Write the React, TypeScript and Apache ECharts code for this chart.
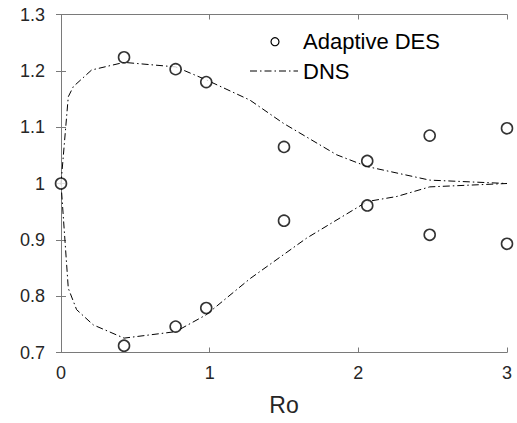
import React, { useEffect, useRef } from "react";
import * as echarts from "echarts";

const desX = [0, 0.424, 0.771, 0.977, 1.5, 2.06, 2.48, 3.0];
const desUpper = [1.0, 1.224, 1.203, 1.18, 1.065, 1.04, 1.085, 1.098];
const desLower = [1.0, 0.712, 0.746, 0.779, 0.934, 0.961, 0.909, 0.893];

const dnsUpperX = [0, 0.049, 0.083, 0.206, 0.424, 0.771, 0.977, 1.271, 1.495, 1.854, 2.06, 2.48, 3.0];
const dnsUpperY = [1.0, 1.154, 1.172, 1.2015, 1.215, 1.207, 1.184, 1.148, 1.107, 1.051, 1.03, 1.006, 1.0];
const dnsLowerX = [3.0, 2.48, 2.26, 2.06, 1.652, 1.271, 0.977, 0.771, 0.424, 0.217, 0.105, 0.049, 0];
const dnsLowerY = [1.0, 0.994, 0.977, 0.968, 0.903, 0.831, 0.767, 0.737, 0.7255, 0.749, 0.776, 0.814, 1.0];

const legendNames = ["Adaptive DES", "DNS"];

const xTicks = { min: 0, max: 3, interval: 1 };
const yTicks = { min: 0.7, max: 1.3, interval: 0.1 };

const FONT = "Liberation Sans";
const AXIS_COLOR = "#7a7a7a";
const TEXT_COLOR = "#262626";
const DASH = [7, 3, 1.5, 3];

export default function App() {
  const ref = useRef<HTMLDivElement>(null);
  useEffect(() => {
    if (!ref.current) return;
    const chart = echarts.init(ref.current, undefined, { renderer: "svg" });
    const desData: number[][] = [];
    desX.forEach((x, i) => {
      desData.push([x, desUpper[i]]);
      if (i > 0) desData.push([x, desLower[i]]);
    });
    const dnsData: number[][] = [
      ...dnsUpperX.map((x, i) => [x, dnsUpperY[i]]),
      ...dnsLowerX.map((x, i) => [x, dnsLowerY[i]]),
    ];
    const fmt = (v: number) => String(Math.round(v * 10) / 10);
    const baseAxis = {
      axisLine: { show: true, lineStyle: { color: AXIS_COLOR, width: 1 } },
      axisTick: { show: true, inside: true, length: 5, lineStyle: { color: AXIS_COLOR } },
      splitLine: { show: false },
    };
    chart.setOption({
      animation: false,
      backgroundColor: "#fff",
      textStyle: { fontFamily: FONT },
      grid: { left: 61, right: 10, top: 14.5, bottom: 70.5, containLabel: false },
      graphic: [
        {
          type: "circle",
          shape: { cx: 275, cy: 41.7, r: 4 },
          style: { fill: "#fff", stroke: "#000", lineWidth: 1.2 },
          z: 10,
        },
        {
          type: "text",
          x: 303,
          y: 41.7,
          style: { text: legendNames[0], fontSize: 22, fontFamily: FONT, fill: "#000", verticalAlign: "middle", align: "left" },
          z: 10,
        },
        {
          type: "line",
          shape: { x1: 250, y1: 71, x2: 298, y2: 71 },
          style: { stroke: "#000", lineWidth: 1, lineDash: DASH },
          z: 10,
        },
        {
          type: "text",
          x: 303,
          y: 71,
          style: { text: legendNames[1], fontSize: 22, fontFamily: FONT, fill: "#000", verticalAlign: "middle", align: "left" },
          z: 10,
        },
      ],
      xAxis: [
        {
          type: "value",
          ...xTicks,
          position: "bottom",
          ...baseAxis,
          axisLabel: { fontSize: 18, color: TEXT_COLOR, margin: 11, fontFamily: FONT, formatter: fmt },
          name: "Ro",
          nameLocation: "middle",
          nameGap: 41,
          nameTextStyle: { fontSize: 23, color: TEXT_COLOR, fontFamily: FONT, verticalAlign: "top" },
        },
        {
          type: "value",
          ...xTicks,
          position: "top",
          ...baseAxis,
          axisLabel: { show: false },
        },
      ],
      yAxis: [
        {
          type: "value",
          ...yTicks,
          position: "left",
          ...baseAxis,
          axisLabel: { fontSize: 18, color: TEXT_COLOR, margin: 16, fontFamily: FONT, formatter: fmt },
        },
        {
          type: "value",
          ...yTicks,
          position: "right",
          ...baseAxis,
          axisLabel: { show: false },
        },
      ],
      series: [
        {
          name: legendNames[1],
          type: "line",
          data: dnsData,
          symbol: "none",
          smooth: false,
          lineStyle: { color: "#000", width: 1, type: DASH },
          itemStyle: { color: "#000" },
          z: 2,
        },
        {
          name: legendNames[0],
          type: "scatter",
          data: desData,
          symbol: "circle",
          symbolSize: 11,
          clip: false,
          itemStyle: { color: "#fff", borderColor: "#000", borderWidth: 1.6 },
          z: 3,
        },
      ],
    });
    return () => chart.dispose();
  }, []);
  return <div ref={ref} style={{ width: 517, height: 423, position: "absolute", left: 0, top: 0 }} />;
}
